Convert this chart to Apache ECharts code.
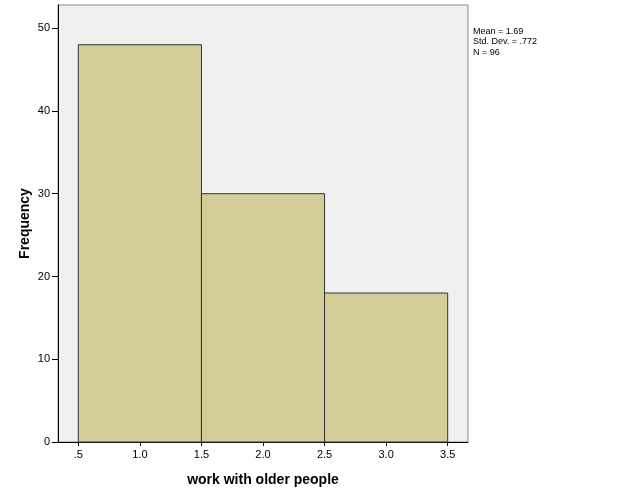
<!DOCTYPE html>
<html><head><meta charset="utf-8">
<script src="https://cdn.jsdelivr.net/npm/echarts@6/dist/echarts.min.js"></script>
<style>html,body{margin:0;padding:0;background:#fff}#c{width:626px;height:501px}</style>
</head><body><div id="c"></div>
<script>
var binStart = [0.5, 1.5, 2.5];
var binEnd = [1.5, 2.5, 3.5];
var counts = [48, 30, 18];
var xTicks = [0.5, 1.0, 1.5, 2.0, 2.5, 3.0, 3.5];
var xTickLabels = ['.5', '1.0', '1.5', '2.0', '2.5', '3.0', '3.5'];
var yTicks = [0, 10, 20, 30, 40, 50];
var statsLines = ['Mean = 1.69', 'Std. Dev. = .772', 'N = 96'];

var chart = echarts.init(document.getElementById('c'), null, {renderer: 'canvas'});
var font = 'Arial, "Liberation Sans", sans-serif';
var data = counts.map(function (c, i) { return [binStart[i], binEnd[i], c]; });
chart.setOption({
  animation: false,
  backgroundColor: '#ffffff',
  grid: {left: 58, top: 5, right: 158, bottom: 59, show: true,
         backgroundColor: '#f0f0f0', borderColor: '#888888', borderWidth: 1},
  graphic: [{
    type: 'text', left: 473, top: 26,
    style: {text: statsLines.join('\n'), font: '9px ' + font, fill: '#000', lineHeight: 10.5}
  }],
  xAxis: {
    type: 'value', min: 0.335, max: 3.665,
    name: 'work with older people', nameLocation: 'middle', nameGap: 31,
    nameMoveOverlap: false,
    nameTextStyle: {fontFamily: font, fontSize: 14, fontWeight: 'bold', color: '#000'},
    axisLine: {show: true, onZero: false, lineStyle: {color: '#000', width: 1}},
    axisTick: {show: true, length: 4, customValues: xTicks, lineStyle: {color: '#000'}},
    axisLabel: {customValues: xTicks, margin: 7, fontFamily: font, fontSize: 11, color: '#000',
      formatter: function (v) { var i = xTicks.indexOf(v); return i >= 0 ? xTickLabels[i] : ''; }},
    splitLine: {show: false}
  },
  yAxis: {
    type: 'value', min: 0, max: 52.8,
    name: 'Frequency', nameLocation: 'middle', nameGap: 26,
    nameMoveOverlap: false,
    nameTextStyle: {fontFamily: font, fontSize: 14, fontWeight: 'bold', color: '#000'},
    axisLine: {show: true, lineStyle: {color: '#000', width: 1}},
    axisTick: {show: true, length: 6, customValues: yTicks, lineStyle: {color: '#000'}},
    axisLabel: {customValues: yTicks, margin: 8, fontFamily: font, fontSize: 11, color: '#000'},
    splitLine: {show: false}
  },
  series: [{
    type: 'custom',
    data: data,
    encode: {x: [0, 1], y: 2},
    renderItem: function (params, api) {
      var p0 = api.coord([api.value(0), api.value(2)]);
      var p1 = api.coord([api.value(1), 0]);
      return {
        type: 'rect',
        shape: {x: p0[0], y: p0[1], width: p1[0] - p0[0], height: p1[1] - p0[1]},
        style: {fill: '#d3ce97', stroke: '#333333', lineWidth: 1}
      };
    }
  }]
});
</script></body></html>
